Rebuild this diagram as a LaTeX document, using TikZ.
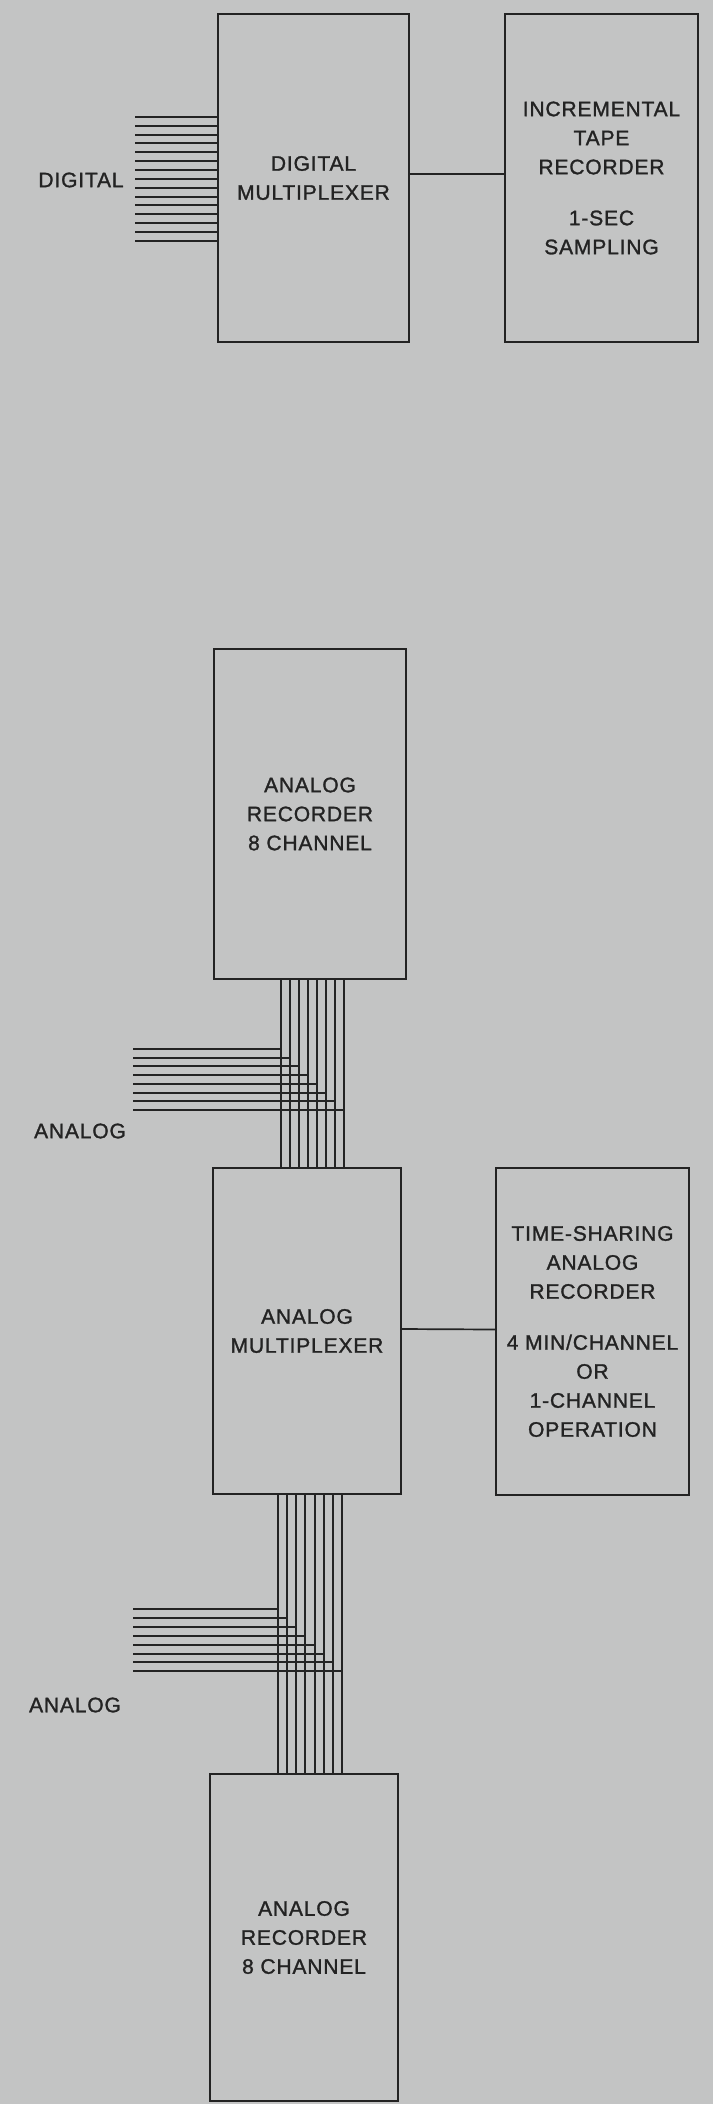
\documentclass[tikz,border=0pt]{standalone}
\usepackage{fontspec}
\setmainfont{Liberation Sans}[LetterSpace=4,BoldFont={Liberation Sans},BoldFeatures={FakeBold=1.3}]
\definecolor{bg}{RGB}{195,196,196}
\definecolor{ink}{RGB}{35,35,35}
\begin{document}
\begin{tikzpicture}[x=0.5pt,y=-0.5pt,
  box/.style={draw=ink, line width=1.1pt, inner sep=0pt, align=center, text=ink,
    font=\fontsize{10.5pt}{14.5pt}\selectfont\bfseries},
  wire/.style={draw=ink, line width=0.85pt},
  lbl/.style={text=ink, inner sep=0pt, font=\fontsize{10.5pt}{14.5pt}\selectfont\bfseries}]
\fill[bg] (0,0) rectangle (713,2104);
\useasboundingbox (0,0) rectangle (713,2104);

% top section
\node[box, minimum width=95.5pt, minimum height=164pt] (dm) at (313.5,178) {DIGITAL\\MULTIPLEXER};
\node[box, minimum width=96.5pt, minimum height=164pt] (tape) at (601.5,178)
  {INCREMENTAL\\TAPE\\RECORDER\\[11pt]1-SEC\\SAMPLING};
\draw[wire] ([yshift=2pt]dm.east) -- ([yshift=2pt]tape.west);
\node[lbl] (diglbl) at (81,180) {DIGITAL};
\foreach \y [count=\i] in {117,126,135,143,152,161,170,179,188,197,205,214,223,232,241} {
  \coordinate (d\i) at (135,\y);
  \draw[wire] (d\i) -- (d\i -| dm.west);
}

% middle section
\node[box, minimum width=96pt, minimum height=165pt] (ar1) at (310,814)
  {ANALOG\\RECORDER\\8 CHANNEL};
\node[box, minimum width=94pt, minimum height=163pt] (mux) at (307,1331)
  {ANALOG\\MULTIPLEXER};
\node[box, minimum width=96.5pt, minimum height=163.5pt] (ts) at (592.5,1331.5)
  {TIME-SHARING\\ANALOG\\RECORDER\\[11pt]4 MIN/CHANNEL\\OR\\1-CHANNEL\\OPERATION};
\draw[wire] ([yshift=1pt]mux.east) -- ([yshift=1pt]ts.west);
\node[lbl] (alab1) at (80,1131) {ANALOG};
\foreach \x/\y [count=\i] in {281/1049,290/1058,299/1066,308/1075,317/1084,326/1093,335/1101,344/1110} {
  \coordinate (ua\i) at (\x,\y);
  \coordinate (ul\i) at (133,\y);
  \draw[wire] (ar1.south -| ua\i) -- (mux.north -| ua\i);
  \draw[wire] (ul\i) -- (ua\i);
}

% bottom section
\node[box, minimum width=94pt, minimum height=163.5pt] (ar2) at (304,1937.5)
  {ANALOG\\RECORDER\\8 CHANNEL};
\node[lbl] (alab2) at (75,1705) {ANALOG};
\foreach \x/\y [count=\i] in {278/1609,287/1618,296/1627,305/1636,315/1645,324/1654,333/1662,342/1671} {
  \coordinate (la\i) at (\x,\y);
  \coordinate (ll\i) at (133,\y);
  \draw[wire] (mux.south -| la\i) -- (ar2.north -| la\i);
  \draw[wire] (ll\i) -- (la\i);
}
\end{tikzpicture}
\end{document}
